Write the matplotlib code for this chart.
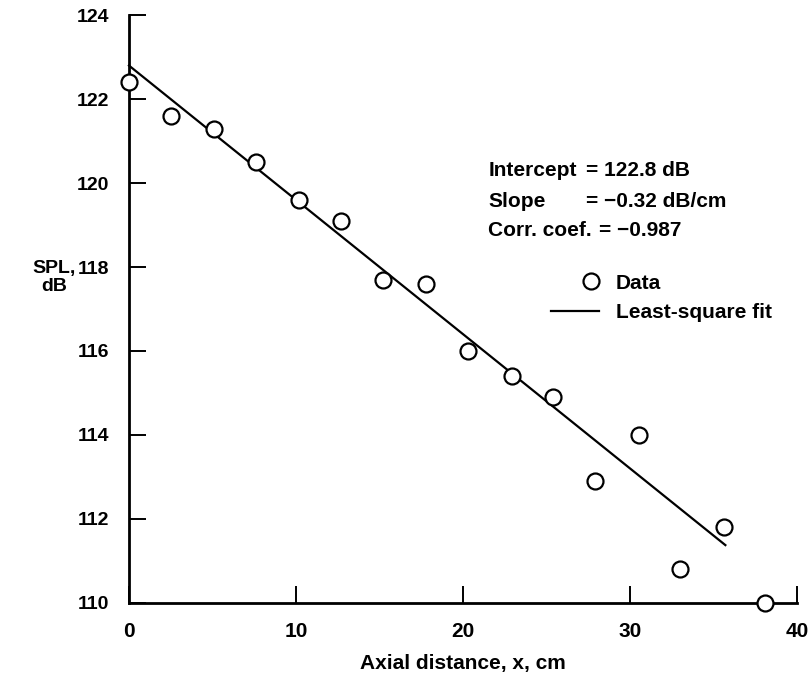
import matplotlib.pyplot as plt
from matplotlib.lines import Line2D

plt.rcParams['font.family'] = ['Liberation Sans', 'DejaVu Sans']
plt.rcParams['font.weight'] = 'bold'
plt.rcParams['axes.labelweight'] = 'bold'

# axial distance (cm) and measured sound pressure level (dB)
x_cm = [0.0, 2.5, 5.1, 7.6, 10.2, 12.7, 15.2, 17.8, 20.3, 22.9, 25.4, 27.9, 30.5, 33.0, 35.6, 38.1]
spl_db = [122.4, 121.6, 121.3, 120.5, 119.6, 119.1, 117.7, 117.6, 116.0, 115.4, 114.9, 112.9, 114.0, 110.8, 111.8, 110.0]

# least-square fit results
intercept = 122.8
slope = -0.32
corr = -0.987
fit_x = [0.0, 35.7]

x_ticks = [0, 10, 20, 30, 40]
y_ticks = [110, 112, 114, 116, 118, 120, 122, 124]

fig = plt.figure(figsize=(8.11, 6.89), dpi=100)
ax = fig.add_axes([0.159, 0.125, 0.824, 0.853])

fit_y = [intercept + slope * v for v in fit_x]
ax.plot(fit_x, fit_y, color='black', lw=1.6, clip_on=False)
ax.plot(x_cm, spl_db, 'o', ms=11.5, mfc='white', mec='black', mew=1.6,
        clip_on=False, zorder=5)

ax.set_xlim(0, 40)
ax.set_ylim(110, 124)
ax.set_xticks(x_ticks)
ax.set_yticks(y_ticks)

for side in ['top', 'right']:
    ax.spines[side].set_visible(False)
for side in ['left', 'bottom']:
    ax.spines[side].set_linewidth(2)
ax.tick_params(direction='in', length=12, width=1.4)
ax.tick_params(axis='y', labelsize=14, pad=14)
ax.tick_params(axis='x', labelsize=15, pad=14)

ax.set_xlabel('Axial distance, x, cm', fontsize=15, labelpad=9)
fig.text(0.067, 0.597, 'SPL,\ndB', fontsize=14,
         ha='center', va='center', linespacing=1.05)

# fit statistics
stats_kw = dict(fontsize=15, ha='left', va='center')
fig.text(0.602, 0.753, 'Intercept', **stats_kw)
fig.text(0.722, 0.753, '= %.1f dB' % intercept, **stats_kw)
fig.text(0.602, 0.708, 'Slope', **stats_kw)
fig.text(0.722, 0.708, '= \u2212%.2f dB/cm' % abs(slope), **stats_kw)
fig.text(0.602, 0.666, 'Corr. coef.', **stats_kw)
fig.text(0.738, 0.666, '= \u2212%.3f' % abs(corr), **stats_kw)

# legend: one entry per box so the marker and the line sit where drawn
leg_kw = dict(frameon=False, loc='center left', bbox_transform=fig.transFigure,
              borderpad=0, borderaxespad=0, handletextpad=0.8,
              prop={'size': 15, 'weight': 'bold'})
data_handle = Line2D([], [], ls='none', marker='o', ms=11.5, mfc='white',
                     mec='black', mew=1.6)
fit_handle = Line2D([], [], color='black', lw=1.6)
leg1 = ax.legend([data_handle], ['Data'], bbox_to_anchor=(0.719, 0.589),
                 handlelength=0.75, **leg_kw)
ax.add_artist(leg1)
ax.legend([fit_handle], ['Least-square fit'], bbox_to_anchor=(0.680, 0.546),
          handlelength=2.3, **leg_kw)

fig.savefig('out.png', dpi=100)
